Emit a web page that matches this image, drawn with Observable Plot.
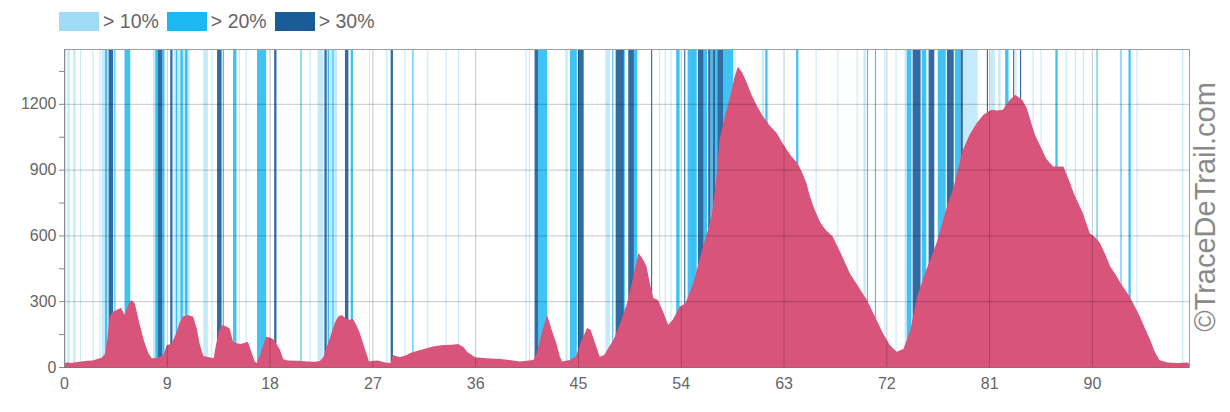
<!DOCTYPE html>
<html>
<head>
<meta charset="utf-8">
<script src="https://cdn.jsdelivr.net/npm/d3@7"></script>
<script src="https://cdn.jsdelivr.net/npm/@observablehq/plot@0.6"></script>
<style>
  html, body { margin: 0; padding: 0; background: #fff; }
  body { width: 1230px; height: 412px; position: relative; overflow: hidden; font-family: "Liberation Sans", Arial, sans-serif; }
  #legend { height: 40px; display: flex; align-items: center; padding-left: 59px; box-sizing: border-box; padding-top: 2px; }
  .item { display: flex; align-items: center; margin-right: 8px; }
  .sw { width: 40px; height: 19px; margin-right: 4px; }
  .lab { font-size: 19.5px; color: #666; }
  #wm { position: absolute; left: 1205px; top: 207px; transform: translate(-50%, -50%) rotate(-90deg); font-size: 29px; color: #8a8a8a; white-space: nowrap; }
</style>
</head>
<body>
<div id="legend"></div>
<div id="chart"></div>
<div id="wm">©TraceDeTrail.com</div>
<script>
// Distance (km) and elevation (m)
const km = [0,0.3,0.6,1.0,1.5,2.0,2.5,3.0,3.3,3.6,3.8,4.0,4.3,4.7,5.0,5.3,5.6,5.9,6.2,6.6,7.0,7.4,7.7,8.2,8.7,9.0,9.4,9.8,10.1,10.4,10.8,11.3,11.6,11.9,12.2,12.7,13.1,13.3,13.6,13.9,14.2,14.5,14.8,15.1,15.4,15.8,16.1,16.4,16.7,16.9,17.2,17.5,17.7,18.0,18.3,18.6,18.9,19.2,19.6,20.5,21.3,22.0,22.4,22.7,23.2,23.7,24.0,24.3,24.7,25.0,25.3,25.6,25.9,26.3,26.7,27.1,27.5,28.0,28.6,28.8,29.4,30.0,30.3,31.2,32.3,33.2,34.0,34.5,35.0,35.3,36.0,37.0,38.2,39.0,39.9,40.5,41.1,41.4,41.8,42.3,42.7,43.1,43.4,43.6,44.3,44.8,45.3,45.8,46.1,46.5,46.9,47.3,47.7,48.1,48.7,49.3,49.8,50.3,50.7,51.0,51.3,51.6,52.0,52.5,52.9,53.3,53.9,54.4,55.1,55.7,56.3,56.7,57.1,57.4,57.9,58.3,58.7,59.0,59.4,59.8,60.2,60.7,61.2,61.8,62.4,62.8,63.3,63.7,64.2,64.6,65.0,65.3,65.7,66.2,66.7,67.3,68.0,68.8,69.5,70.3,71.0,71.7,72.3,72.9,73.5,74.1,74.7,75.5,76.4,77.3,77.9,78.7,79.3,79.9,80.5,81.2,81.7,82.2,82.8,83.3,83.9,84.3,84.6,85.0,85.5,86.0,86.6,87.5,88.0,88.4,89.2,89.8,90.3,90.7,91.2,91.6,92.1,92.5,93.3,94.2,94.7,95.1,95.5,95.9,96.6,97.5,98.4,98.5];
const elev = [15,22,18,22,25,28,30,38,42,60,130,230,252,262,270,237,280,305,290,200,120,60,40,42,55,100,105,150,200,230,237,230,180,100,50,45,40,100,170,192,185,175,115,110,105,110,115,70,25,18,60,110,138,135,128,105,80,35,30,28,25,24,27,45,120,200,230,237,220,215,220,190,155,90,25,28,30,22,18,55,45,55,64,78,93,100,102,105,90,68,45,40,36,32,25,28,32,64,150,237,170,110,50,25,32,47,120,178,170,110,47,55,90,123,200,292,400,520,490,458,380,315,305,246,192,215,275,290,383,500,611,686,850,1036,1150,1226,1320,1370,1340,1294,1240,1188,1142,1100,1067,1030,990,960,930,890,839,780,720,660,625,595,520,428,370,305,230,154,100,70,82,168,321,443,565,731,822,990,1060,1112,1150,1173,1170,1173,1218,1241,1218,1180,1127,1060,1005,950,914,914,850,793,702,611,590,565,510,458,420,383,321,230,170,123,70,32,20,18,20,15];

// Slope segments [from km, to km]
const steep10 = [[0.1,0.2],[0.3,0.5],[0.8,1.0],[1.4,1.5],[2.5,2.6],[3.1,3.2],[3.3,3.7],[7.8,8.1],[9.6,11.0],[12.2,12.6],[12.9,13.0],[13.9,14.0],[15.3,15.4],[15.9,16.0],[21.5,21.6],[22.2,22.7],[23.0,23.9],[26.7,26.8],[28.2,28.3],[29.8,29.9],[31.8,31.9],[33.4,33.5],[34.5,34.6],[40.4,40.5],[40.7,40.8],[43.9,44.1],[47.4,47.8],[52.1,52.2],[52.6,52.7],[53.1,53.2],[55.0,55.2],[58.7,58.8],[61.1,61.3],[65.8,65.9],[67.7,67.8],[69.4,69.5],[70.0,70.2],[71.8,71.9],[72.8,72.9],[73.6,73.8],[78.7,80.0],[81.1,81.5],[81.8,82.0],[83.3,83.4],[84.8,84.9],[85.5,85.6],[87.7,87.8],[88.5,88.6],[89.2,89.3],[93.9,94.0],[97.9,98.0]];
const steep20 = [[3.6,3.8],[4.4,4.5],[5.3,5.8],[8.0,8.2],[8.6,8.8],[9.8,9.9],[10.2,10.4],[10.6,10.8],[13.9,14.0],[14.8,15.1],[16.9,17.7],[20.7,20.8],[23.1,23.2],[23.5,23.6],[25.1,25.3],[30.5,30.6],[41.5,42.3],[44.3,44.9],[48.0,48.1],[48.9,49.1],[49.9,50.2],[53.6,53.9],[54.6,55.4],[56.0,56.3],[56.6,56.8],[57.0,57.2],[57.7,58.6],[61.4,61.6],[64.1,64.3],[70.3,70.4],[71.0,71.1],[73.8,74.2],[75.1,75.5],[76.5,77.2],[78.0,78.5],[82.4,82.7],[86.8,87.0],[90.4,90.5],[92.5,92.6],[93.2,93.4]];
const steep30 = [[3.9,4.3],[8.2,8.6],[9.3,9.5],[13.4,13.8],[18.4,18.6],[22.8,23.0],[24.6,24.9],[28.6,28.8],[41.2,41.5],[45.0,45.5],[48.3,49.0],[49.4,49.9],[51.4,51.5],[54.3,54.4],[55.5,56.0],[56.4,56.6],[56.8,57.0],[57.2,57.7],[74.3,75.0],[75.7,76.2],[77.3,77.9],[78.5,78.7],[80.8,80.9],[83.1,83.2],[83.7,83.8]];

const xTicks = [0,9,18,27,36,45,54,63,72,81,90];
const yTicks = [0,150,300,450,600,750,900,1050,1200,1350];
const yGrid = [0,300,600,900,1200];
const legendLabels = ["> 10%","> 20%","> 30%"];
const legendColors = ["#9fdcf6","#1cb8f2","#1a5c98"];

const profile = km.map((k,i) => ({km:k, elev:elev[i]}));

// Legend
const leg = document.getElementById("legend");
legendLabels.forEach((t,i) => {
  const it = document.createElement("div"); it.className = "item";
  const sw = document.createElement("div"); sw.className = "sw"; sw.style.background = legendColors[i];
  const lb = document.createElement("span"); lb.className = "lab"; lb.textContent = t;
  it.appendChild(sw); it.appendChild(lb); leg.appendChild(it);
});

const chart = Plot.plot({
  width: 1230,
  height: 372,
  marginTop: 9,
  marginBottom: 45,
  marginLeft: 64,
  marginRight: 41,
  style: {fontFamily: "'Liberation Sans', Arial, sans-serif", fontSize: "16px", color: "#666", background: "#fff"},
  x: {domain: [0, 98.5], label: null},
  y: {domain: [0, 1450], label: null},
  marks: [
    Plot.rect(steep10, {x1: d => d[0], x2: d => d[1], fill: legendColors[0], fillOpacity: 0.6}),
    Plot.rect(steep20, {x1: d => d[0], x2: d => d[1], fill: legendColors[1], fillOpacity: 0.85}),
    Plot.rect(steep30, {x1: d => d[0], x2: d => d[1], fill: legendColors[2], fillOpacity: 0.9}),
    Plot.areaY(profile, {x: "km", y: "elev", fill: "#d9547a"}),
    Plot.gridY(yGrid, {stroke: "#000", strokeOpacity: 0.22}),
    Plot.gridX(xTicks, {stroke: "#000", strokeOpacity: 0.22}),
    Plot.axisY(yTicks, {label: null, tickSize: 5, tickPadding: 3, tickFormat: d => d % 300 === 0 ? String(d) : "", fontSize: 16, stroke: "#7f8a96", fill: "#666"}),
    Plot.axisX(xTicks, {label: null, tickSize: 0, tickPadding: 10, fontSize: 16, fill: "#666"}),
    Plot.frame({stroke: "#a0a0a0"}),
    Plot.ruleY([0], {stroke: "#777"}),
    Plot.ruleX([0], {stroke: "#7f8a96"})
  ]
});
document.getElementById("chart").appendChild(chart);
</script>
</body>
</html>
